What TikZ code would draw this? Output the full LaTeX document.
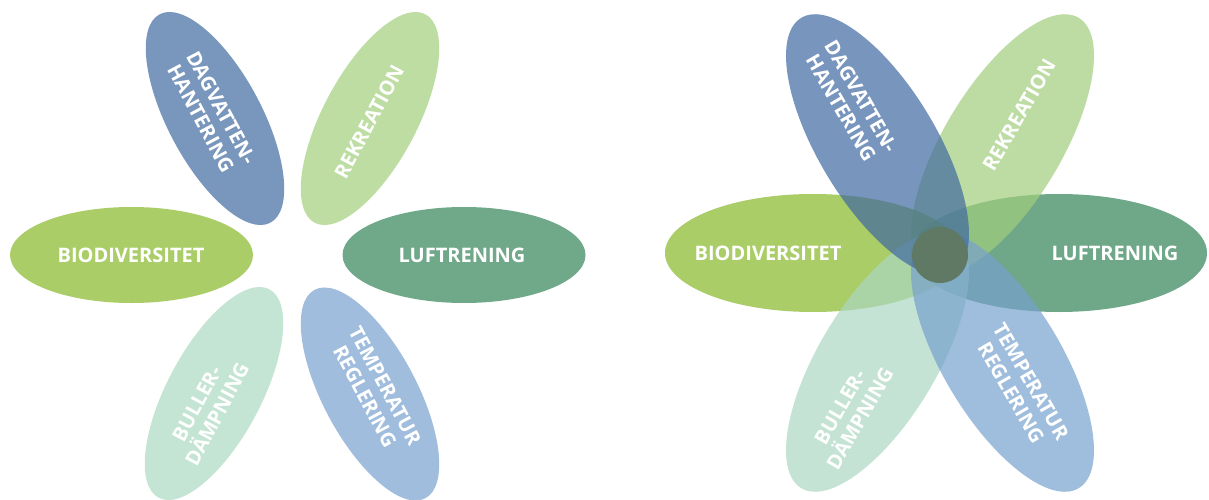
\documentclass[tikz,border=0pt]{standalone}
\usepackage{fontspec}
\newfontfamily\petalfont{Open Sans}
\usetikzlibrary{shapes.geometric}

% solid petal colours
\definecolor{biogreen}{RGB}{170,205,104}
\definecolor{luftgreen}{RGB}{112,168,138}
\definecolor{dagblue}{RGB}{121,150,189}
\definecolor{rekgreen}{RGB}{190,221,163}
\definecolor{bulmint}{RGB}{196,228,212}
\definecolor{tempblue}{RGB}{160,189,221}
% deeper versions, used at 70% opacity so they read the same on white
\definecolor{biogreenT}{RGB}{134,184,39}
\definecolor{luftgreenT}{RGB}{51,131,88}
\definecolor{dagblueT}{RGB}{64,105,161}
\definecolor{rekgreenT}{RGB}{162,206,124}
\definecolor{bulmintT}{RGB}{171,216,194}
\definecolor{tempblueT}{RGB}{119,161,206}
\definecolor{corecol}{RGB}{96,121,101}

\begin{document}
\begin{tikzpicture}[x=1pt,y=-1pt,
  petal/.style={ellipse, inner sep=0pt, draw=none},
  wide petal/.style={petal, minimum width=243pt, minimum height=96pt},
  small petal/.style={petal, minimum width=236pt, minimum height=94pt},
  long petal/.style={petal, minimum width=296pt, minimum height=118pt, fill opacity=0.7},
  petal text/.style={text=white, inner sep=0pt, align=center,
    font=\petalfont\bfseries\fontsize{20}{23}\selectfont},
]
\useasboundingbox (0,0) rectangle (1209,500);
\fill[white] (0,0) rectangle (1209,500);

% ---------- separate petals ----------
\node[wide petal, fill=biogreen] (bioL) at (131.5,255) {};
\node[wide petal, fill=luftgreen] (luftL) at (464,255) {};
\node[small petal, rotate=-62, fill=dagblue] (dagL) at (215,118.5) {};
\node[small petal, rotate=62, fill=rekgreen] (rekL) at (370,118.5) {};
\node[small petal, rotate=62, fill=bulmint] (bulL) at (214,393.5) {};
\node[small petal, rotate=-62, fill=tempblue] (temL) at (370,394) {};

\node[petal text] (bioLt) at (131,255) {BIODIVERSITET};
\node[petal text] (luftLt) at (462,255) {LUFTRENING};
\node[petal text, rotate=-62] (dagLt) at (211,113) {DAGVATTEN-\\HANTERING};
\node[petal text, rotate=62] (rekLt) at (369,122) {REKREATION};
\node[petal text, rotate=62] (bulLt) at (207,409) {BULLER-\\DÄMPNING};
\node[petal text, rotate=-62] (temLt) at (375,391) {TEMPERATUR\\REGLERING};

% ---------- overlapping petals ----------
\node[long petal, fill=luftgreenT] (luftR) at (1059,253) {};
\node[long petal, rotate=59, fill=rekgreenT] (rekR) at (1002.5,144.7) {};
\node[long petal, fill=biogreenT] (bioR) at (813,253) {};
\node[long petal, rotate=59, fill=bulmintT] (bulR) at (877.5,361.3) {};
\node[long petal, rotate=-59, fill=tempblueT] (temR) at (1002.5,361.3) {};
\node[long petal, rotate=-59, fill=dagblueT] (dagR) at (877.5,144.7) {};
\node[circle, inner sep=0pt, minimum size=56pt, fill=corecol] (core) at (940,255) {};

\node[petal text] (bioRt) at (768,253) {BIODIVERSITET};
\node[petal text] (luftRt) at (1115,253) {LUFTRENING};
\node[petal text, rotate=-60] (dagRt) at (851,102) {DAGVATTEN-\\HANTERING};
\node[petal text, rotate=60] (rekRt) at (1019,115) {REKREATION};
\node[petal text, rotate=60] (bulRt) at (850,413) {BULLER-\\DÄMPNING};
\node[petal text, rotate=-60] (temRt) at (1021,387) {TEMPERATUR\\REGLERING};
\end{tikzpicture}
\end{document}
